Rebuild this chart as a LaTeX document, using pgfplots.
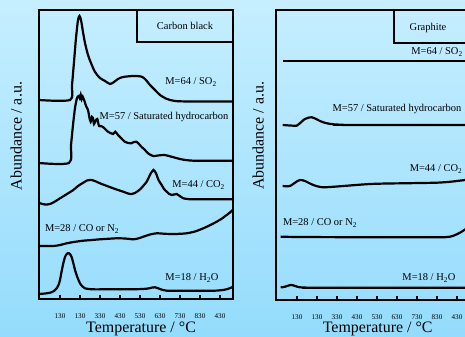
\documentclass[border=0pt]{standalone}
\usepackage{fontspec}
\setmainfont{Liberation Serif}
\usepackage{pgfplots}
\pgfplotsset{compat=1.18}
\definecolor{bgtop}{HTML}{C6EEFF}
\definecolor{bgbot}{HTML}{94DCFC}
\tikzset{ann/.style={font=\fontsize{10.5}{12}\selectfont, inner sep=0pt},
  crv/.style={black, mark=none, line width=2.2bp, smooth, tension=0.45}}
\pgfplotsset{
  panel/.style={
    scale only axis, width=194bp,
    axis line style={line width=1.5bp},
    xtick align=inside, major tick length=4bp, xtick pos=bottom,
    x tick style={line width=1.2bp, black},
    ytick=\empty,
    xticklabels={130,130,330,430,530,630,730,830,430},
    xticklabel style={anchor=center, inner sep=0pt, yshift=-17bp, font=\fontsize{7.2}{8}\selectfont},
    /pgf/number format/assume math mode=true,
    label style={font=\fontsize{16}{18}\selectfont, inner sep=0pt},
  },
}
\begin{document}
\begin{tikzpicture}
\useasboundingbox (0,0) rectangle (465bp,337bp);
\shade[top color=bgtop, bottom color=bgbot] (0,0) rectangle (465bp,337bp);
\clip (0,0) rectangle (465bp,337bp);
% ---------------- left panel: Carbon black
\begin{axis}[panel, at={(39bp,38bp)}, anchor=south west, height=289bp,
  xmin=39, xmax=233, ymin=-299, ymax=-10,
  xtick={60,80,100,120,140,160,180,200,220},
  xlabel={Temperature / \textdegree C},
  xlabel style={at={(axis description cs:0.526,-0.102)}, anchor=center},
  ylabel={Abundance / a.u.},
  ylabel style={at={(axis description cs:-0.118,0.564)}, anchor=center, rotate=0},
]
\addplot[crv] coordinates {(39,-100)(70,-100)(72,-85)(74,-62)(76,-38)(78,-20)(79.5,-16)(81,-20)(83,-32)(85,-43)(88,-55)(91,-63)(95,-72)(100,-78)(105,-81)(110,-84)(114,-82)(118,-79)(123,-77)(133,-76)(141,-76.5)(145,-79)(150,-85)(155,-90)(160,-95)(167,-99)(175,-101)(190,-101.5)(233,-101.5)};
\addplot[crv] coordinates {(39,-163)(69,-163)(71,-145)(73,-125)(75,-108)(77,-98)(78.7,-96)(79.7,-98)(80.7,-94.7)(81.7,-99)(82.7,-96.7)(84.7,-101.7)(86,-106)(88,-110)(89.5,-118)(90.7,-121.7)(92,-117)(93,-118)(94,-124)(95.5,-121)(97.3,-119)(99,-126)(101,-126)(103,-127)(108,-131.7)(113,-134)(115.3,-131.7)(118,-135)(121,-138)(124.7,-141.7)(128,-143)(131.3,-143.3)(134,-142)(136.3,-141.7)(139,-144)(141.3,-146.7)(145,-150)(148,-153.3)(153,-156)(158,-155.5)(164.7,-155)(171.3,-156.7)(181.3,-159.3)(190,-160.5)(198,-160.7)(233,-160.7)};
\addplot[crv] coordinates {(39,-203)(45,-204.5)(50,-204)(55,-201.5)(60,-198.3)(67,-194)(73.3,-190)(78,-186)(83.3,-182.7)(87,-180.5)(91.7,-180)(96,-181.5)(100,-183.3)(107,-186)(113.3,-188.3)(118,-190)(123.3,-191.7)(128,-193.5)(131.7,-194)(135,-193)(138,-191)(141,-188.5)(144,-185)(146.7,-181.7)(149,-177)(151,-173)(153.5,-170)(155,-171.5)(156.7,-175)(158.5,-180)(161.7,-185)(164,-189)(166.7,-191.7)(169,-193.8)(171.7,-195)(174,-194.5)(176.7,-194)(179,-195.5)(183.3,-198.3)(188,-199)(193.3,-199.3)(233,-199.3)};
\addplot[crv] coordinates {(39,-246)(53.3,-246)(60,-245)(66.7,-243.3)(75,-241.8)(83.3,-240.7)(92,-240)(100,-239.3)(108,-238.8)(116.7,-238.3)(125,-238.5)(133.3,-239.3)(138,-238.5)(143.3,-236.7)(150,-234.5)(156.7,-233.3)(165,-233.8)(173.3,-234)(180,-233.8)(186.7,-233.3)(195,-231.5)(203.3,-228.3)(210,-225.2)(216.7,-221.7)(222,-218.5)(226.7,-215)(230,-212.5)(233.3,-209.3)};
\addplot[crv] coordinates {(39,-294)(45,-293.5)(50,-292.7)(54,-291)(56.7,-288.3)(58.5,-285)(60,-280)(61.5,-272)(63.3,-263.3)(65,-257)(66.7,-254)(68,-253)(69,-253.3)(70.3,-254.5)(71.7,-257.3)(73.3,-263)(75,-270)(77.5,-277.5)(80,-283.3)(82.5,-286.5)(85,-288.3)(91.7,-289.3)(110,-289.3)(133.3,-289.3)(146.7,-288.7)(152,-287.6)(155,-287.3)(157.5,-288)(160,-289)(166.7,-290.7)(186.7,-290.7)(213.3,-290.7)(220,-290.3)(226.7,-289.3)(233.3,-286.7)};
\draw[line width=1.2bp] (axis cs:137,-42) rectangle (axis cs:233,-10);
\node[ann] at (axis cs:185,-26) {Carbon black};
\node[ann] at (axis cs:191,-82) {M=64 / SO\textsubscript{2}};
\node[ann] at (axis cs:164,-117) {M=57 / Saturated hydrocarbon};
\node[ann] at (axis cs:198.6,-185) {M=44 / CO\textsubscript{2}};
\node[ann] at (axis cs:82,-229) {M=28 / CO or N\textsubscript{2}};
\node[ann] at (axis cs:192,-278) {M=18 / H\textsubscript{2}O};
\end{axis}
% ---------------- right panel: Graphite
\begin{axis}[panel, at={(276bp,37bp)}, anchor=south west, height=290bp,
  xmin=276, xmax=470, ymin=-300, ymax=-10,
  xtick={297,317,337,357,377,397,417,437,457},
  xlabel={Temperature / \textdegree C},
  xlabel style={at={(axis description cs:0.524,-0.099)}, anchor=center},
  ylabel={Abundance / a.u.},
  ylabel style={at={(axis description cs:-0.092,0.566)}, anchor=center, rotate=0},
]
\addplot[crv] coordinates {(282.7,-61)(470,-61)};
\addplot[crv] coordinates {(282.7,-125)(290,-125.5)(296.7,-125.7)(299,-124)(301.7,-121.7)(304,-119.5)(306.7,-118.3)(309,-117.5)(311.7,-117.3)(314,-118)(316.7,-119.3)(320,-121)(323.3,-122.3)(328,-123.5)(333.3,-124.3)(343,-124.8)(353.3,-125)(470,-125)};
\addplot[crv] coordinates {(282.7,-186)(287,-186.3)(290,-186)(292.5,-184.5)(295,-182.7)(297.5,-181)(300,-180)(302.5,-180.2)(305,-181)(309,-183)(313.3,-185)(318,-186.5)(323.3,-187.3)(333,-186.8)(343.3,-186)(356,-185)(370,-184)(387,-183.5)(403.3,-183.3)(420,-183)(436.7,-182.7)(450,-181.8)(465,-180)(470,-179.5)};
\addplot[crv] coordinates {(280.7,-236.7)(300,-237)(350,-237.2)(400,-237.3)(440,-237.3)(445,-237.2)(450,-236.7)(453.5,-235.7)(456.7,-234.3)(460,-232.7)(462.7,-231)(465,-229.5)(470,-226)};
\addplot[crv] coordinates {(280.7,-287.3)(283,-287.1)(285,-286.7)(288,-285.7)(290.7,-285)(293,-285.3)(295,-286)(297.5,-286.8)(300,-287.3)(306,-287.6)(313.3,-287.7)(470,-287.7)};
\draw[line width=1.2bp] (axis cs:394,-43) rectangle (axis cs:475,-10);
\node[ann] at (axis cs:428,-28) {Graphite};
\node[ann] at (axis cs:437,-52) {M=64 / SO\textsubscript{2}};
\node[ann] at (axis cs:397,-109) {M=57 / Saturated hydrocarbon};
\node[ann] at (axis cs:436,-169) {M=44 / CO\textsubscript{2}};
\node[ann] at (axis cs:320,-223) {M=28 / CO or N\textsubscript{2}};
\node[ann] at (axis cs:429,-278) {M=18 / H\textsubscript{2}O};
\end{axis}
\end{tikzpicture}
\end{document}
